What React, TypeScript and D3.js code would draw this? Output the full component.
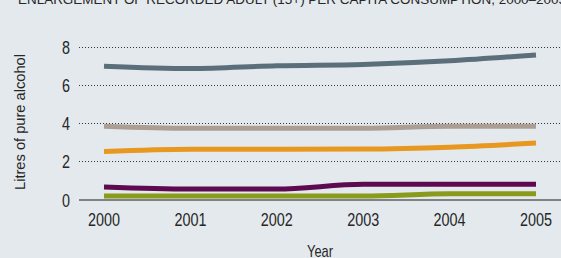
import React from "react";
import { scaleLinear, line, curveMonotoneX } from "d3";

const years = [2000, 2001, 2002, 2003, 2004, 2005];
const yTicks = [0, 2, 4, 6, 8];

const slate = [7.0, 6.88, 7.03, 7.1, 7.29, 7.6];
const beige = [3.85, 3.74, 3.74, 3.74, 3.85, 3.85];
const orange = [2.52, 2.64, 2.64, 2.65, 2.75, 2.97];
const purple = [0.66, 0.55, 0.55, 0.8, 0.8, 0.8];
const green = [0.18, 0.18, 0.18, 0.18, 0.3, 0.3];

const series = [
	{ name: "slate", values: slate, color: "#5b6f7b" },
	{ name: "beige", values: beige, color: "#ab9f95" },
	{ name: "orange", values: orange, color: "#e9981f" },
	{ name: "purple", values: purple, color: "#5d0a50" },
	{ name: "green", values: green, color: "#8a9a1c" },
];

const W = 561;
const H = 258;
// no condensed face installed, so squeeze Liberation Sans with textLength
const font = "'Liberation Sans', Arial, sans-serif";
const ink = "#262626";

export default function App() {
	const x = scaleLinear().domain([2000, 2005]).range([104, 536]);
	const y = scaleLinear().domain([0, 8]).range([199.5, 47.3]);

	const gen = line<number>()
		.x((_, i) => x(years[i]))
		.y((d) => y(d))
		.curve(curveMonotoneX);

	return (
		<svg
			width={W}
			height={H}
			style={{ position: "absolute", left: 0, top: 0, display: "block" }}
		>
			<rect width={W} height={H} fill="#e4e9ed" />
			<text
				x={18}
				y={4}
				fontFamily={font}
				fontSize={13}
				fill={ink}
				textLength={548}
				lengthAdjust="spacingAndGlyphs"
			>
				ENLARGEMENT OF RECORDED ADULT (15+) PER CAPITA CONSUMPTION, 2000–2005
			</text>

			{yTicks.filter((t) => t > 0).map((t) => (
				<line
					key={t}
					x1={79}
					x2={W}
					y1={Math.round(y(t)) + 0.5}
					y2={Math.round(y(t)) + 0.5}
					stroke="#333"
					strokeWidth={1}
					strokeDasharray="1 2"
				/>
			))}

			{yTicks.map((t) => (
				<text
					key={t}
					x={70}
					y={y(t) + 7}
					textAnchor="end"
					fontFamily={font}
					fontSize={19}
					fill={ink}
					textLength={8}
					lengthAdjust="spacingAndGlyphs"
				>
					{t}
				</text>
			))}

			{series.map((s) => (
				<path
					key={s.name}
					d={gen(s.values) || ""}
					fill="none"
					stroke={s.color}
					strokeWidth={5}
					strokeLinecap="butt"
				/>
			))}

			<line x1={79} x2={W} y1={200} y2={200} stroke="#1a1a1a" strokeWidth={1.2} />

			{years.map((yr) => (
				<text
					key={yr}
					x={x(yr) - 16}
					y={225.5}
					fontFamily={font}
					fontSize={19}
					fill={ink}
					textLength={32}
					lengthAdjust="spacingAndGlyphs"
				>
					{yr}
				</text>
			))}

			<text
				x={307}
				y={257}
				fontFamily={font}
				fontSize={17}
				fill={ink}
				textLength={26}
				lengthAdjust="spacingAndGlyphs"
			>
				Year
			</text>
			<text
				transform={`translate(24.5, 190) rotate(-90)`}
				fontFamily={font}
				fontSize={15.5}
				fill={ink}
				textLength={136}
				lengthAdjust="spacingAndGlyphs"
			>
				Litres of pure alcohol
			</text>
		</svg>
	);
}
